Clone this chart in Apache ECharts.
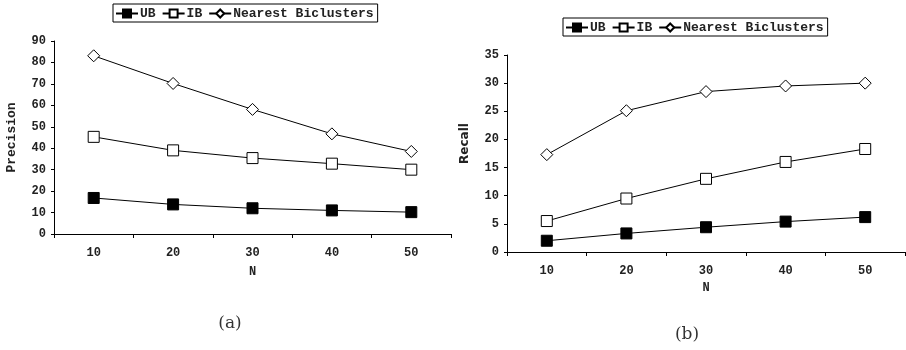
<!DOCTYPE html>
<html><head><meta charset="utf-8">
<script src="https://cdn.jsdelivr.net/npm/echarts@6/dist/echarts.min.js"></script>
<style>html,body{margin:0;padding:0;background:#fff}#c{width:906px;height:350px}</style>
</head><body><div id="c"></div>
<script>
const categories = ['10', '20', '30', '40', '50'];
const seriesNames = ['UB', 'IB', 'Nearest Biclusters'];
const precisionUB = [16.8, 13.8, 12.0, 11.0, 10.2];
const precisionIB = [45.3, 39.0, 35.4, 32.8, 30.0];
const precisionNB = [83.1, 70.2, 58.1, 46.7, 38.5];
const recallUB = [2.0, 3.3, 4.4, 5.4, 6.2];
const recallIB = [5.5, 9.5, 13.0, 16.0, 18.3];
const recallNB = [17.3, 25.1, 28.5, 29.5, 30.0];

const F = '"Liberation Mono", "DejaVu Sans Mono", monospace';
const S = '"DejaVu Sans", Verdana, sans-serif';
const symbols = [
  {symbol: 'rect', symbolSize: 11, itemStyle: {color: '#000', borderColor: '#000', borderWidth: 1}},
  {symbol: 'rect', symbolSize: 11, itemStyle: {color: '#fff', borderColor: '#000', borderWidth: 1}},
  {symbol: 'diamond', symbolSize: [12, 12], itemStyle: {color: '#fff', borderColor: '#000', borderWidth: 1}}
];
function mk(name, data, idx, gi) {
  const s = symbols[idx];
  return {
    name: name, type: 'line', xAxisIndex: gi, yAxisIndex: gi, data: data,
    symbol: s.symbol, symbolSize: s.symbolSize, showAllSymbol: true,
    itemStyle: s.itemStyle, lineStyle: {color: '#000', width: 1}, z: 3 - idx,
    animation: false
  };
}
function xAx(gi, nameGap) {
  return {
    gridIndex: gi, type: 'category', data: categories, boundaryGap: true,
    name: 'N', nameLocation: 'middle', nameGap: nameGap,
    nameTextStyle: {fontFamily: F, fontWeight: 'bold', fontSize: 12, color: '#222'},
    axisLine: {lineStyle: {color: '#000', width: 1}},
    axisTick: {show: true, length: 4, alignWithLabel: false, lineStyle: {color: '#000'}},
    axisLabel: {fontFamily: F, fontWeight: 'bold', fontSize: 12, color: '#222', margin: 13},
    splitLine: {show: false}
  };
}
function yAx(gi, name, max, interval, nameStyle) {
  return {
    gridIndex: gi, type: 'value', min: 0, max: max, interval: interval,
    name: name, nameLocation: 'middle', nameGap: 36, nameRotate: 90,
    nameTextStyle: nameStyle,
    axisLine: {show: true, lineStyle: {color: '#000', width: 1}},
    axisTick: {show: true, length: 3, lineStyle: {color: '#000'}},
    axisLabel: {fontFamily: F, fontWeight: 'bold', fontSize: 12, color: '#222', margin: 8},
    splitLine: {show: false}
  };
}
function lg(left, top) {
  return {
    left: left, top: top, data: seriesNames, orient: 'horizontal',
    borderColor: '#000', borderWidth: 1, backgroundColor: '#fff', borderRadius: 0,
    padding: [3, 4, 2, 2], itemGap: 6, itemWidth: 22, itemHeight: 10,
    textStyle: {fontFamily: F, fontWeight: 'bold', fontSize: 13, color: '#222', padding: [0, 0, 0, -3]},
    selectedMode: false
  };
}
const chart = echarts.init(document.getElementById('c'), null, {renderer: 'canvas'});
chart.setOption({
  animation: false,
  backgroundColor: '#fff',
  title: [
    {text: '(a)', left: 225, top: 310, textAlign: 'center',
     textStyle: {fontFamily: '"DejaVu Serif", "Liberation Serif", serif', fontWeight: 'normal', fontSize: 17, color: '#333'}},
    {text: '(b)', left: 682, top: 321, textAlign: 'center',
     textStyle: {fontFamily: '"DejaVu Serif", "Liberation Serif", serif', fontWeight: 'normal', fontSize: 17, color: '#333'}}
  ],
  legend: [lg(113, 4), lg(563, 18)],
  grid: [
    {left: 54, right: 455, top: 41, bottom: 116},
    {left: 507, right: 1, top: 55, bottom: 98}
  ],
  xAxis: [xAx(0, 32), xAx(1, 24)],
  yAxis: [
    yAx(0, 'Precision', 90, 10, {fontFamily: F, fontWeight: 'bold', fontSize: 13, color: '#222'}),
    yAx(1, 'Recall', 35, 5, {fontFamily: S, fontWeight: 'bold', fontSize: 12, color: '#222', padding: [0, 0, 0, 20]})
  ],
  series: [
    mk('UB', precisionUB, 0, 0), mk('IB', precisionIB, 1, 0), mk('Nearest Biclusters', precisionNB, 2, 0),
    mk('UB', recallUB, 0, 1), mk('IB', recallIB, 1, 1), mk('Nearest Biclusters', recallNB, 2, 1)
  ]
});
</script></body></html>
